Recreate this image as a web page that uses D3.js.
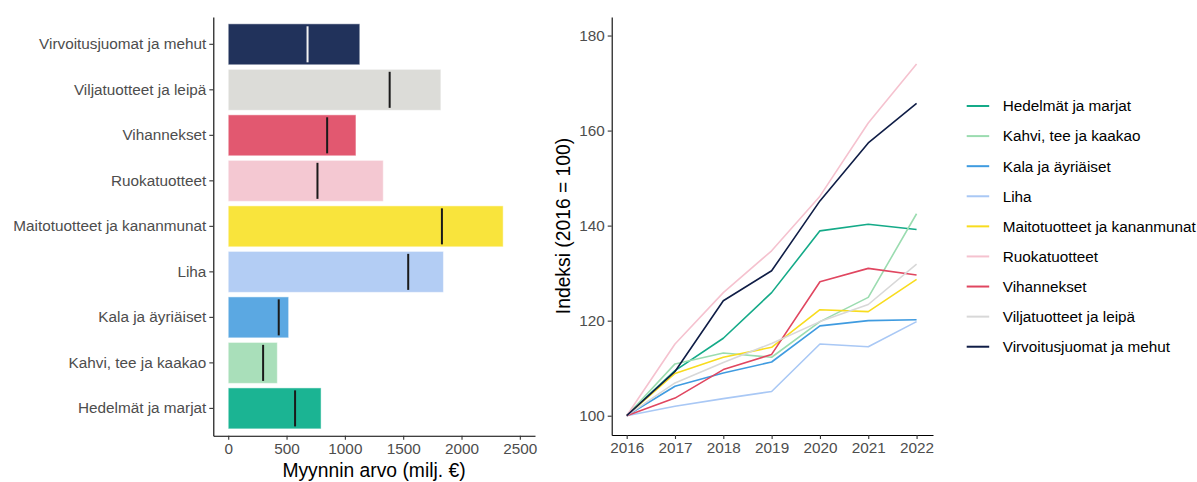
<!DOCTYPE html>
<html>
<head>
<meta charset="utf-8">
<script src="https://cdn.jsdelivr.net/npm/d3@7"></script>
<style>
  body { margin: 0; background: #fff; }
  svg text { font-family: "Liberation Sans", Arial, sans-serif; }
</style>
</head>
<body>
<div id="chart"></div>
<script>
// Categories (alphabetical, as in the legend)
var categories = [
  "Hedelmät ja marjat",
  "Kahvi, tee ja kaakao",
  "Kala ja äyriäiset",
  "Liha",
  "Maitotuotteet ja kananmunat",
  "Ruokatuotteet",
  "Vihannekset",
  "Viljatuotteet ja leipä",
  "Virvoitusjuomat ja mehut"
];
var colors = ["#1bb493", "#a9dfba", "#5ba8e2", "#b3cdf4", "#f9e43c", "#f4c8d2", "#e25870", "#dcdcd8", "#21325b"];
var lineColors = ["#14aa88", "#9bdcb0", "#3f9be0", "#a9c8f5", "#f8dc1e", "#f5c2cf", "#e04660", "#d8d8d8", "#0f1d46"];

// Sales value 2022 and 2016 (milj. €)
var sales2022 = [796, 421, 518, 1845, 2357, 1329, 1095, 1823, 1128];
var sales2016 = [573, 299, 433, 1543, 1832, 765, 848, 1384, 680];

// Index (2016 = 100)
var years = [2016, 2017, 2018, 2019, 2020, 2021, 2022];
var idxHedelmat = [100, 109.5, 116.3, 125.9, 138.9, 140.3, 139.2];
var idxKahvi = [100, 110.9, 113.2, 112.3, 119.8, 124.9, 142.5];
var idxKala = [100, 106.2, 109.0, 111.3, 118.9, 120.0, 120.2];
var idxLiha = [100, 102.0, 103.6, 105.1, 115.1, 114.5, 119.8];
var idxMaito = [100, 108.9, 112.3, 114.4, 122.3, 121.9, 128.7];
var idxRuoka = [100, 115.1, 125.9, 134.7, 146.2, 161.6, 174.0];
var idxVihannekset = [100, 103.7, 109.7, 112.9, 128.2, 131.0, 129.6];
var idxVilja = [100, 106.9, 111.2, 115.2, 119.8, 123.4, 131.9];
var idxVirvoitus = [100, 109.3, 124.2, 130.5, 145.2, 157.4, 165.7];
var indexSeries = [idxHedelmat, idxKahvi, idxKala, idxLiha, idxMaito, idxRuoka, idxVihannekset, idxVilja, idxVirvoitus];

var xTicksBar = [0, 500, 1000, 1500, 2000, 2500];
var yTicksLine = [100, 120, 140, 160, 180];

var barData = categories.map(function(c, i) {
  return { name: c, v2022: sales2022[i], v2016: sales2016[i], color: colors[i], i: i };
});

var svg = d3.select("#chart").append("svg")
  .attr("width", 1197)
  .attr("height", 482);

var tickColor = "#4d4d4d";
var tickFont = "15.3px";
var titleFont = "19.3px";

// ---------- Left panel: bar chart ----------
var left = { x0: 213.3, x1: 535, y0: 17, y1: 435.7 };

var xBar = d3.scaleLinear()
  .domain([-128, 2630])
  .range([left.x0, left.x1]);

var yBar = d3.scaleBand()
  .domain(categories.slice().reverse())
  .range([left.y0, left.y1])
  .paddingInner(0.1)
  .paddingOuter(0.15);

var gBar = svg.append("g");

gBar.selectAll(".bar")
  .data(barData)
  .enter()
  .append("rect")
  .attr("class", "bar")
  .attr("x", xBar(0))
  .attr("y", function(d) { return yBar(d.name); })
  .attr("width", function(d) { return xBar(d.v2022) - xBar(0); })
  .attr("height", yBar.bandwidth())
  .attr("fill", function(d) { return d.color; })
  .attr("stroke", "#ffffff")
  .attr("stroke-opacity", 0.5)
  .attr("stroke-width", 1);

// 2016 markers
gBar.selectAll(".marker")
  .data(barData)
  .enter()
  .append("line")
  .attr("class", "marker")
  .attr("x1", function(d) { return xBar(d.v2016); })
  .attr("x2", function(d) { return xBar(d.v2016); })
  .attr("y1", function(d) { return yBar(d.name) + yBar.bandwidth() * 0.06; })
  .attr("y2", function(d) { return yBar(d.name) + yBar.bandwidth() * 0.94; })
  .attr("stroke", function(d) { return d.i === 8 ? "#f2f2f2" : "#1a1a1a"; })
  .attr("stroke-width", 2);

// Axes
var xAxisBar = gBar.append("g")
  .attr("transform", "translate(0," + left.y1 + ")")
  .call(d3.axisBottom(xBar).tickValues(xTicksBar).tickFormat(d3.format("d")).tickSize(4).tickPadding(3).tickSizeOuter(0));

var yAxisBar = gBar.append("g")
  .attr("transform", "translate(" + left.x0 + ",0)")
  .call(d3.axisLeft(yBar).tickSize(4).tickPadding(3).tickSizeOuter(0));

[xAxisBar, yAxisBar].forEach(function(ax) {
  ax.select(".domain").attr("stroke", "#000").attr("stroke-width", 1.1);
  ax.selectAll(".tick line").attr("stroke", "#333").attr("stroke-width", 1.1);
  ax.selectAll(".tick text").attr("fill", tickColor).style("font-size", tickFont);
});

gBar.append("text")
  .attr("x", 374)
  .attr("y", 477)
  .attr("text-anchor", "middle")
  .style("font-size", titleFont)
  .attr("fill", "#000")
  .text("Myynnin arvo (milj. €)");

// ---------- Right panel: index lines ----------
var right = { x0: 611.7, x1: 933, y0: 17, y1: 435 };

var xLine = d3.scaleLinear()
  .domain([2015.69, 2022.34])
  .range([right.x0, right.x1]);

var yLine = d3.scaleLinear()
  .domain([95.94, 183.9])
  .range([right.y1, right.y0]);

var gLine = svg.append("g");

var line = d3.line()
  .x(function(d, i) { return xLine(years[i]); })
  .y(function(d) { return yLine(d); });

gLine.selectAll(".series")
  .data(indexSeries)
  .enter()
  .append("path")
  .attr("class", "series")
  .attr("d", line)
  .attr("fill", "none")
  .attr("stroke", function(d, i) { return lineColors[i]; })
  .attr("stroke-width", 1.6)
  .attr("stroke-linejoin", "round");

var xAxisLine = gLine.append("g")
  .attr("transform", "translate(0," + right.y1 + ")")
  .call(d3.axisBottom(xLine).tickValues(years).tickFormat(d3.format("d")).tickSize(4).tickPadding(3).tickSizeOuter(0));

var yAxisLine = gLine.append("g")
  .attr("transform", "translate(" + right.x0 + ",0)")
  .call(d3.axisLeft(yLine).tickValues(yTicksLine).tickSize(4).tickPadding(3).tickSizeOuter(0));

[xAxisLine, yAxisLine].forEach(function(ax) {
  ax.select(".domain").attr("stroke", "#000").attr("stroke-width", 1.1);
  ax.selectAll(".tick line").attr("stroke", "#333").attr("stroke-width", 1.1);
  ax.selectAll(".tick text").attr("fill", tickColor).style("font-size", tickFont);
});

gLine.append("text")
  .attr("transform", "translate(570," + ((right.y0 + right.y1) / 2) + ") rotate(-90)")
  .attr("text-anchor", "middle")
  .style("font-size", titleFont)
  .attr("fill", "#000")
  .text("Indeksi (2016 = 100)");

// ---------- Legend ----------
var legend = svg.append("g")
  .attr("transform", "translate(966.7,106)");

var items = legend.selectAll(".item")
  .data(categories)
  .enter()
  .append("g")
  .attr("class", "item")
  .attr("transform", function(d, i) { return "translate(0," + (i * 30.09) + ")"; });

items.append("line")
  .attr("x1", 0)
  .attr("x2", 22.5)
  .attr("y1", 0)
  .attr("y2", 0)
  .attr("stroke", function(d, i) { return lineColors[i]; })
  .attr("stroke-width", 2);

items.append("text")
  .attr("x", 36)
  .attr("y", 0)
  .attr("dy", "0.35em")
  .style("font-size", tickFont)
  .attr("fill", "#000")
  .text(function(d) { return d; });
</script>
</body>
</html>
